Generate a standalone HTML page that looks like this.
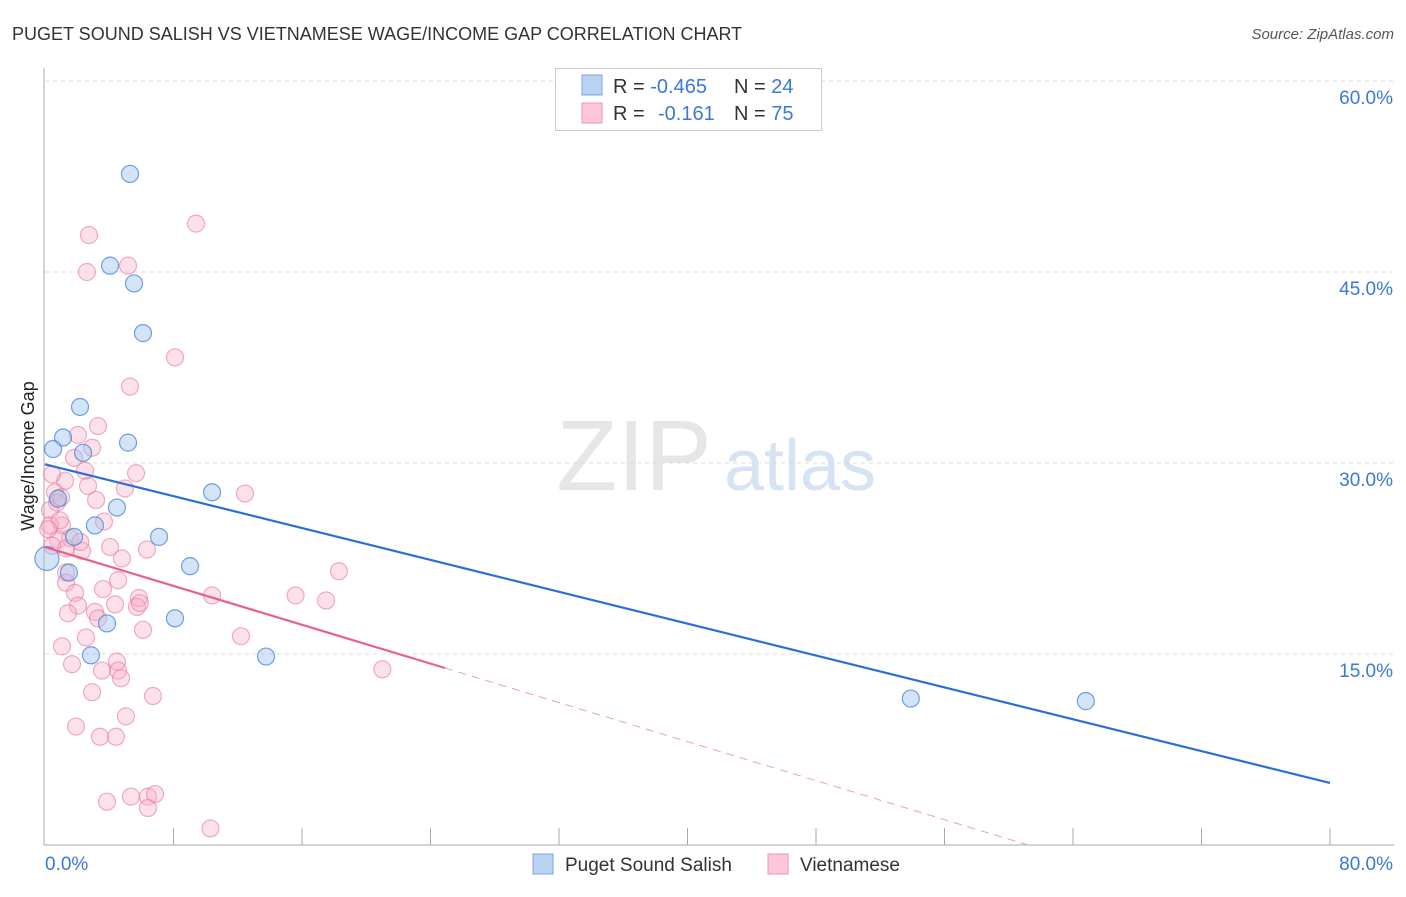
<!DOCTYPE html>
<html><head><meta charset="utf-8"><style>
body{margin:0;background:#fff;font-family:"Liberation Sans",sans-serif}
svg text{font-family:"Liberation Sans",sans-serif}
</style></head><body>
<svg id="c" width="1406" height="892">
<text x="12" y="40" font-size="18" fill="#333">PUGET SOUND SALISH VS VIETNAMESE WAGE/INCOME GAP CORRELATION CHART</text>
<text x="1394" y="39" font-size="15" fill="#555" font-style="italic" text-anchor="end">Source: ZipAtlas.com</text>
<text x="634" y="490" font-size="100" fill="#e6e6e6" font-family="Liberation Serif" text-anchor="middle">ZIP</text>
<text x="800" y="490" font-size="72" fill="#d6e3f3" text-anchor="middle">atlas</text>
<text transform="translate(34,456) rotate(-90)" font-size="18" fill="#222" text-anchor="middle">Wage/Income Gap</text>
<g id="grid"></g><g id="axes"></g><g id="pts"></g><g id="lines"></g>
<g>
<rect x="555.5" y="68.5" width="266" height="62" fill="#fff" stroke="#ccc"/>
<rect x="582" y="75" width="20" height="20" fill="#b9d3f3" stroke="#7aa6e0"/>
<rect x="582" y="103" width="20" height="20" fill="#fcc8d7" stroke="#f093b0"/>
<text x="613" y="93" font-size="20" fill="#333">R = <tspan fill="#3b78d8">-0.465</tspan><tspan x="734">N = </tspan><tspan fill="#3b78d8">24</tspan></text>
<text x="613" y="120" font-size="20" fill="#333">R = <tspan x="658" fill="#3b78d8">-0.161</tspan><tspan x="734">N = </tspan><tspan fill="#3b78d8">75</tspan></text>
</g>
<g>
<rect x="533" y="854" width="20" height="20" fill="#b9d3f3" stroke="#7aa6e0"/>
<text x="565" y="871" font-size="19" fill="#333">Puget Sound Salish</text>
<rect x="768" y="854" width="20" height="20" fill="#fcc8d7" stroke="#f093b0"/>
<text x="800" y="871" font-size="19" fill="#333">Vietnamese</text>
</g>
</svg>
<script>
const xTicks=[0,8,16,24,32,40,48,56,64,72,80];
const yTicks=[15,30,45,60];
const blueX=[5.29,4.05,5.54,6.10,2.18,1.12,5.17,0.50,2.37,0.81,10.4,4.48,3.11,1.81,7.10,0.12,9.03,1.49,8.09,3.86,2.86,13.76,53.9,64.8];
const blueY=[52.7,45.5,44.1,40.2,34.4,32.0,31.6,31.1,30.8,27.2,27.7,26.5,25.1,24.2,24.2,22.5,21.9,21.4,17.8,17.4,14.9,14.8,11.5,11.3];
const pinkX=[9.40,2.74,2.61,5.17,8.09,5.29,3.30,2.05,2.93,1.81,5.67,4.98,12.45,2.68,1.25,0.62,3.18,0.75,0.31,3.67,1.06,0.31,1.56,0.81,1.31,2.30,4.05,6.35,4.79,18.3,1.31,1.31,3.61,1.87,10.4,15.6,17.5,5.85,4.36,2.05,3.11,1.43,5.73,3.30,6.10,12.2,2.55,1.06,4.48,1.68,3.55,4.55,4.73,21.0,2.93,6.72,1.93,5.04,3.42,4.42,5.35,3.86,6.41,6.85,6.41,10.3,4.55,0.93,0.44,2.49,0.44,0.2,1.0,2.2,5.9];
const pinkY=[48.8,47.9,45.0,45.5,38.3,36.0,32.9,32.2,31.2,30.4,29.2,28.0,27.6,28.2,28.6,27.7,27.1,26.9,26.3,25.4,25.1,25.1,24.1,24.0,23.3,23.1,23.4,23.2,22.5,21.5,21.4,20.6,20.1,19.8,19.6,19.6,19.2,19.4,18.9,18.8,18.3,18.2,18.7,17.8,16.9,16.4,16.3,15.6,14.4,14.2,13.7,13.7,13.1,13.8,12.0,11.7,9.3,10.1,8.5,8.5,3.8,3.4,3.8,4.0,2.9,1.3,20.8,25.5,23.5,29.4,29.1,24.8,27.3,23.8,19.0];
const blueLine=[[0,29.9],[80,4.87]];
const pinkSolid=[[0,23.4],[24.9,13.9]];
const pinkDash=[[24.9,13.9],[61.2,0]];
const X=v=>45+v/80*1285, Y=v=>845-v/60*764;
const NS="http://www.w3.org/2000/svg";
function mk(p,t,a){const e=document.createElementNS(NS,t);for(const k in a)e.setAttribute(k,a[k]);p.appendChild(e);return e;}
const grid=document.getElementById('grid'),axes=document.getElementById('axes'),pts=document.getElementById('pts'),lines=document.getElementById('lines');
yTicks.forEach(t=>{
const g=mk(grid,'line',{x1:45,x2:1394,y1:Y(t),y2:Y(t),stroke:'#ddd','stroke-dasharray':'4,4'});


const l=mk(axes,'text',{x:1393,y:Y(t)+23,'font-size':19,fill:'#3b78d8','text-anchor':'end'});
l.textContent=t.toFixed(1)+'%';


});
const ya=mk(axes,'line',{x1:44,x2:44,y1:68,y2:845,stroke:'#aaa'});


const xa=mk(axes,'line',{x1:44,x2:1394,y1:845,y2:845,stroke:'#aaa'});


xTicks.forEach((t,i)=>{
if(i>0){const k=mk(axes,'line',{x1:X(t),x2:X(t),y1:828,y2:845,stroke:'#aaa'});

}
});
[[0,'0.0%','start',45],[80,'80.0%','end',1393]].forEach(([v,s,a,x])=>{
const l=mk(axes,'text',{x:x,y:870,'font-size':19,fill:'#3b78d8','text-anchor':a});
l.textContent=s;


});
pinkX.forEach((v,i)=>{
const c=mk(pts,'circle',{cx:X(v),cy:Y(pinkY[i]),r:8.5,fill:'rgba(248,170,195,0.35)',stroke:'rgba(232,120,155,0.6)','stroke-width':1.2});


});
blueX.forEach((v,i)=>{
const c=mk(pts,'circle',{cx:X(v),cy:Y(blueY[i]),r:i==15?12:8.5,fill:'rgba(160,195,240,0.45)',stroke:'rgba(70,130,210,0.75)','stroke-width':1.2});


});
const bl=mk(lines,'line',{x1:X(blueLine[0][0]),y1:Y(blueLine[0][1]),x2:X(blueLine[1][0]),y2:Y(blueLine[1][1]),stroke:'#2a6fd6','stroke-width':2.2});


const ps=mk(lines,'line',{x1:X(pinkSolid[0][0]),y1:Y(pinkSolid[0][1]),x2:X(pinkSolid[1][0]),y2:Y(pinkSolid[1][1]),stroke:'#e8608a','stroke-width':2.2});


const pd=mk(lines,'line',{x1:X(pinkDash[0][0]),y1:Y(pinkDash[0][1]),x2:X(pinkDash[1][0]),y2:Y(pinkDash[1][1]),stroke:'#e8a0b8','stroke-width':1,'stroke-dasharray':'8,6'});


</script>
</body></html>
